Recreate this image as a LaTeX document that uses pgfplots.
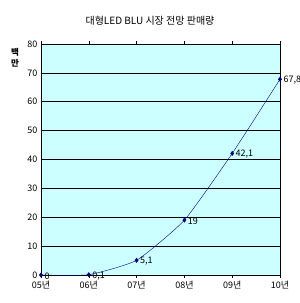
\documentclass[border=0pt]{standalone}
\usepackage{pgfplots}
\pgfplotsset{compat=1.18}
\usepackage{fontspec}
\setmainfont{Noto Sans CJK KR}
\definecolor{bgcyan}{RGB}{204,255,255}
\definecolor{navy}{RGB}{0,0,128}
\begin{document}
\begin{tikzpicture}
\useasboundingbox (0pt,0pt) rectangle (300pt,303pt);
\node at (150pt,282pt) {\fontsize{10}{12}\selectfont 대형LED BLU 시장 전망 판매량};
\node[align=center,font=\fontsize{8.5}{11}\selectfont\bfseries] at (15pt,245pt) {백\\만};
\begin{axis}[
  at={(41pt,28pt)}, anchor=south west,
  scale only axis, width=239pt, height=231pt,
  xmin=0, xmax=5, ymin=0, ymax=80,
  xtick={0,1,2,3,4,5},
  xticklabels={05년,06년,07년,08년,09년,10년},
  ytick={0,10,...,80},
  axis background/.style={fill=bgcyan},
  ymajorgrids, grid style={black, line width=0.6pt},
  axis line style={black},
  tick style={black}, ytick style={draw=none},
  xtick align=outside, major tick length=3pt,
  tick label style={font=\fontsize{9}{10}\selectfont},
  /pgf/number format/assume math mode=true,
  clip=false,
]
\addplot[navy, mark=diamond*, mark size=2.2pt, mark options={fill=navy}, smooth, tension=0.3,
  nodes near coords, point meta=explicit symbolic,
  every node near coord/.style={anchor=west, font=\fontsize{9}{10}\selectfont, black, xshift=0pt, yshift=-1pt}]
  table[meta=lbl] {
x y lbl
0 0 0
1 0.1 {0,1}
2 5.1 {5,1}
3 19 19
4 42.1 {42,1}
5 67.8 {67,8}
};
\end{axis}
\end{tikzpicture}
\end{document}
